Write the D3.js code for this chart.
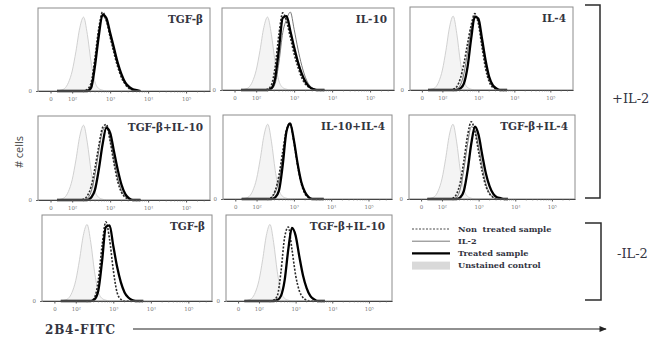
<!DOCTYPE html>
<html>
<head>
<meta charset="utf-8">
<script src="https://cdn.jsdelivr.net/npm/d3@7/dist/d3.min.js"></script>
<style>
  body { margin: 0; background: #fff; }
  svg { display: block; }
</style>
</head>
<body>
<svg id="chart" width="650" height="339"></svg>
<script>
// ---- data: 2B4-FITC histograms, log10 fluorescence bins, % of max count ----
const logBins = [1.6, 1.7, 1.8, 1.9, 2.0, 2.1, 2.2, 2.3, 2.4, 2.5, 2.6, 2.7,
                 2.8, 2.9, 3.0, 3.1, 3.2, 3.3, 3.4, 3.5, 3.6, 3.7, 3.8];

const tickPositions = [1.43, 2, 3, 4, 5];
const tickLabels = ["0", "10\u00B2", "10\u00B3", "10\u2074", "10\u2075"];
const minorTicks = [2.301, 2.477, 2.602, 2.699, 2.778, 2.845, 2.903, 2.954,
                    3.301, 3.477, 3.602, 3.699, 3.778, 3.845, 3.903, 3.954,
                    4.301, 4.477, 4.602, 4.699, 4.778, 4.845, 4.903, 4.954,
                    5.301, 5.477];

const panelLabels = ["TGF-\u03B2", "IL-10", "IL-4",
                     "TGF-\u03B2+IL-10", "IL-10+IL-4", "TGF-\u03B2+IL-4",
                     "TGF-\u03B2", "TGF-\u03B2+IL-10"];

const unstained = [0, 1, 3, 10, 24, 48, 76, 89, 68, 34, 11, 3, 1, 0, 0, 0, 0, 0, 0, 0, 0, 0, 0];

const treated = [
  [0,0,0,0,0,0,0,0, 0,4,30,66,92,88,70,52,34,20,10,5,2,1,0],
  [0,0,0,0,0,0,0,0, 2,14,50,88,90,72,52,34,20,10,4,1,0,0,0],
  [0,0,0,0,0,0,0,0, 0,2,8,28,62,88,86,62,36,16,6,2,0,0,0],
  [0,0,0,0,0,0,0,0, 0,3,12,36,66,86,80,58,36,18,7,2,0,0,0],
  [0,0,0,0,0,0,0,0, 0,2,10,40,80,90,70,42,20,8,2,0,0,0,0],
  [0,0,0,0,0,0,0,0, 0,2,10,34,66,86,76,52,30,15,6,2,1,0,0],
  [0,0,0,0,0,0,0,0, 0,2,12,46,86,88,64,40,22,10,4,1,0,0,0],
  [0,0,0,0,0,0,0,0, 0,1,6,24,60,85,76,52,30,15,6,2,0,0,0]
];

const nonTreated = [
  [0,0,0,0,0,0,0,0, 2,10,40,75,95,85,65,46,29,16,8,3,1,0,0],
  [0,0,0,0,0,0,0,1, 6,28,68,94,84,64,44,28,15,7,3,1,0,0,0],
  [0,0,0,0,0,0,0,1, 4,14,32,56,78,92,80,52,26,10,3,1,0,0,0],
  [0,0,0,0,0,0,0,1, 5,16,38,64,86,90,70,44,22,9,3,1,0,0,0],
  [0,0,0,0,0,0,0,0, 2,10,28,56,82,90,68,40,18,6,2,0,0,0,0],
  [0,0,0,0,0,0,0,1, 6,20,46,76,92,80,56,32,15,6,2,0,0,0,0],
  [0,0,0,0,0,0,0,0, 0,4,24,64,92,72,36,10,2,0,0,0,0,0,0],
  [0,0,0,0,0,0,0,0, 1,6,34,74,86,60,30,12,4,1,0,0,0,0,0]
];

// IL-2 only cultures exist for the +IL-2 panels
const il2Only = [
  [0,0,0,0,0,0,0,0, 1,8,36,72,90,84,66,48,30,17,8,3,1,0,0],
  [0,0,0,0,0,0,0,0, 1,8,34,70,86,95,74,50,30,15,6,2,0,0,0],
  [0,0,0,0,0,0,0,0, 1,6,20,46,74,90,82,56,30,12,4,1,0,0,0],
  [0,0,0,0,0,0,0,0, 2,10,30,58,82,88,72,48,26,11,4,1,0,0,0],
  [0,0,0,0,0,0,0,0, 2,8,22,50,80,88,70,42,20,7,2,0,0,0,0],
  [0,0,0,0,0,0,0,0, 2,12,36,66,86,82,62,38,18,7,2,0,0,0,0],
  null,
  null
];

const legendLabels = ["Non  treated sample", "IL-2", "Treated sample", "Unstained control"];
const groupLabels = ["+IL-2", "-IL-2"];

// ---- layout ----
const logDomain = [1.1, 5.63];
const panels = [
  { x: 38,  y: 8,   w: 172, h: 83 },
  { x: 222, y: 8,   w: 172, h: 82 },
  { x: 410, y: 7,   w: 163, h: 83 },
  { x: 38,  y: 116, w: 172, h: 84 },
  { x: 223, y: 115, w: 169, h: 84 },
  { x: 409, y: 115, w: 166, h: 84 },
  { x: 42,  y: 215, w: 170, h: 86 },
  { x: 226, y: 215, w: 166, h: 86 }
];

const serif = "'DejaVu Serif', 'Liberation Serif', serif";
const textColor = "#34353f";
const svg = d3.select("#chart");

panels.forEach((p, i) => {
  const x = d3.scaleLinear().domain(logDomain).range([p.x, p.x + p.w]);
  const y = d3.scaleLinear().domain([0, 100]).range([p.y + p.h, p.y]);
  const g = svg.append("g").attr("class", "panel");

  const line = d3.line()
    .x((d, j) => x(logBins[j]))
    .y(d => y(d))
    .curve(d3.curveMonotoneX);
  const area = d3.area()
    .x((d, j) => x(logBins[j]))
    .y0(y(0))
    .y1(d => y(d))
    .curve(d3.curveMonotoneX);

  // unstained control: pale filled histogram
  g.append("path")
    .attr("d", area(unstained))
    .attr("fill", "#f4f4f4")
    .attr("stroke", "#cccccc")
    .attr("stroke-width", 0.9);

  // IL-2 alone: thin grey line
  if (il2Only[i]) {
    g.append("path")
      .attr("d", line(il2Only[i]))
      .attr("fill", "none")
      .attr("stroke", "#6a6a6a")
      .attr("stroke-width", 0.9);
  }

  // non treated: dotted
  g.append("path")
    .attr("d", line(nonTreated[i]))
    .attr("fill", "none")
    .attr("stroke", "#2a2a2a")
    .attr("stroke-width", 1.6)
    .attr("stroke-dasharray", "2,1.6");

  // treated: heavy black
  g.append("path")
    .attr("d", line(treated[i]))
    .attr("fill", "none")
    .attr("stroke", "#000")
    .attr("stroke-width", 2.3)
    .attr("stroke-linejoin", "round");

  // frame
  g.append("rect")
    .attr("x", p.x).attr("y", p.y)
    .attr("width", p.w).attr("height", p.h)
    .attr("fill", "none")
    .attr("stroke", "#8c8c8c")
    .attr("stroke-width", 1);

  // x axis (major + minor ticks)
  const xAxis = g.append("g")
    .attr("transform", `translate(0,${p.y + p.h})`)
    .call(d3.axisBottom(x)
      .tickValues(tickPositions)
      .tickFormat((d, k) => tickLabels[k])
      .tickSize(2.5)
      .tickSizeOuter(0)
      .tickPadding(4));
  xAxis.select(".domain").attr("stroke", "#444").attr("stroke-width", 1.1);
  xAxis.selectAll(".tick line").attr("stroke", "#555");
  xAxis.selectAll(".tick text")
    .attr("fill", "#777")
    .attr("font-size", 5.5)
    .attr("font-family", serif);

  g.append("g")
    .attr("transform", `translate(0,${p.y + p.h})`)
    .selectAll("line")
    .data(minorTicks)
    .join("line")
    .attr("x1", d => x(d)).attr("x2", d => x(d))
    .attr("y1", 0).attr("y2", 1.5)
    .attr("stroke", "#666")
    .attr("stroke-width", 0.6);

  // y axis zero
  const yAxis = g.append("g")
    .attr("transform", `translate(${p.x},0)`)
    .call(d3.axisLeft(y).tickValues([0]).tickFormat(() => "0").tickSize(2).tickPadding(4));
  yAxis.select(".domain").remove();
  yAxis.selectAll(".tick line").attr("stroke", "#666");
  yAxis.selectAll(".tick text")
    .attr("fill", "#777")
    .attr("font-size", 5.5)
    .attr("font-family", serif);

  // treatment label
  g.append("text")
    .attr("x", p.x + p.w - 7)
    .attr("y", p.y + 15)
    .attr("text-anchor", "end")
    .attr("font-family", serif)
    .attr("font-weight", "bold")
    .attr("font-size", 10.5)
    .attr("fill", textColor)
    .text(panelLabels[i]);
});

// ---- legend ----
const legendX = 412, legendY = 229, legendGap = 12.2;
const legend = svg.append("g");
legendLabels.forEach((lab, k) => {
  const ly = legendY + k * legendGap;
  if (k === 3) {
    legend.append("rect")
      .attr("x", legendX).attr("y", ly - 4)
      .attr("width", 38).attr("height", 8)
      .attr("fill", "#d9d9d9");
  } else {
    legend.append("line")
      .attr("x1", legendX).attr("x2", legendX + 38)
      .attr("y1", ly).attr("y2", ly)
      .attr("stroke", k === 0 ? "#333" : (k === 1 ? "#6a6a6a" : "#000"))
      .attr("stroke-width", k === 0 ? 0.9 : (k === 1 ? 0.9 : 2.2))
      .attr("stroke-dasharray", k === 0 ? "2,1.5" : null);
  }
  legend.append("text")
    .attr("x", legendX + 46)
    .attr("y", ly + 2.8)
    .attr("font-family", serif)
    .attr("font-weight", "bold")
    .attr("font-size", 8.2)
    .attr("fill", textColor)
    .attr("xml:space", "preserve")
    .style("white-space", "pre")
    .text(lab);
});

// ---- group brackets ----
const brackets = [
  { x0: 585, x1: 600, y0: 5, y1: 198, ly: 103 },
  { x0: 585, x1: 601, y0: 223, y1: 300, ly: 258 }
];
brackets.forEach((b, k) => {
  svg.append("path")
    .attr("d", `M${b.x0},${b.y0}H${b.x1}V${b.y1}H${b.x0}`)
    .attr("fill", "none")
    .attr("stroke", "#2b2b2b")
    .attr("stroke-width", 1.5);
  svg.append("text")
    .attr("x", k === 0 ? 612 : 617)
    .attr("y", b.ly)
    .attr("font-family", serif)
    .attr("font-size", 13)
    .attr("fill", textColor)
    .text(groupLabels[k]);
});

// ---- axis titles ----
svg.append("text")
  .attr("transform", "translate(23,152) rotate(-90)")
  .attr("text-anchor", "middle")
  .attr("font-family", "'Open Sans', 'Liberation Sans', sans-serif")
  .attr("font-size", 11)
  .attr("fill", "#444")
  .text("# cells");

svg.append("text")
  .attr("x", 45)
  .attr("y", 334)
  .attr("font-family", serif)
  .attr("font-weight", "bold")
  .attr("font-size", 12)
  .attr("letter-spacing", 0.8)
  .attr("fill", textColor)
  .text("2B4-FITC");

svg.append("defs").append("marker")
  .attr("id", "arrowhead")
  .attr("viewBox", "0 0 10 10")
  .attr("refX", 9).attr("refY", 5)
  .attr("markerWidth", 7).attr("markerHeight", 6)
  .attr("orient", "auto")
  .append("path")
  .attr("d", "M0,1L10,5L0,9Z")
  .attr("fill", "#222");

svg.append("line")
  .attr("x1", 133).attr("x2", 606)
  .attr("y1", 329).attr("y2", 329)
  .attr("stroke", "#222")
  .attr("stroke-width", 1.2)
  .attr("marker-end", "url(#arrowhead)");
</script>
</body>
</html>
